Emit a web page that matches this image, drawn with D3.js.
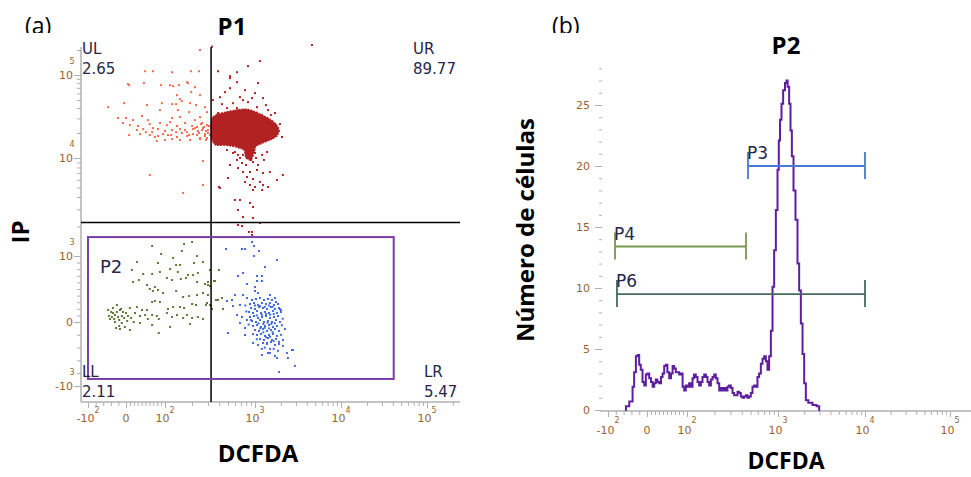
<!DOCTYPE html>
<html lang="en">
<head>
<meta charset="utf-8">
<title>DCFDA / IP</title>
<script src="https://cdn.jsdelivr.net/npm/d3@7"></script>
<style>
  body { margin: 0; background: #fff; }
  svg { display: block; }
</style>
</head>
<body>
<div id="chart"></div>
<script>
// ---- data: panel (a) scatter, [DCFDA, IP] ----
var ulPoints = [[245,200000],[49,111000],[69,111000],[120,108000],[195,111000],[239,111000],
  [8,75500],[46,79800],[90,75500],[114,75500],[143,75500],[176,82000],[215,71400],
  [195,62200],[136,57200],[245,57200],[147,51200],[154,48500],
  [-47,41000],[-5,45800],[54,43400],[92,45800],[120,44600],[133,44600],[190,45800],[221,43400],[278,41000],
  [87,37800],[139,37800],[185,35700],[293,35700],
  [-21,30300],[0,30300],[18,28600],[41,32000],[56,28600],[120,30300],[147,31100],[114,27100],[215,28600],[245,31100],
  [-8,26400],[10,24900],[31,24300],[61,25600],[87,26400],[105,24900],[136,24300],[167,26400],[200,24300],[258,26400],[293,24900],
  [28,21700],[44,22300],[67,20500],[82,22300],[100,21100],[120,21700],[147,22300],[176,20500],[205,22300],[232,21100],[264,22900],[300,21700],
  [8,18900],[61,18900],[74,17900],[108,18900],[136,17900],[176,18400],[227,18900],[278,19400],
  [79,16000],[100,16500],[120,16900],[147,16500],[190,16500],[245,16900],[293,17400],
  [215,22900],[239,20000],[258,21700],[278,18400],[300,20000],[205,19400],[227,23600],[271,23600],[245,17400],[286,16500],
  [167,21700],[185,18900],[154,20000],[133,20500],[117,18900],[95,19400],[82,18400],[69,22900],[51,20500],[36,19400],
  [308,24300],[316,18900],[286,21100],[251,25600],
  [61,6700],[159,4400],[264,5300],[264,9300],[5,77600],[123,73400],[180,79800]];

var urPoints = [[4600,230000],[1140,147000],[836,128000],[631,108000],[527,96800],[388,111000],[333,220000],
  [527,69500],[681,54100],[1000,60500],[1240,52700],[1420,37800],[408,54100],[569,45800],[836,47100],[631,39900],
  [488,39900],[388,34800],[1055,41000],[1210,32900],[1575,26400],[1800,20500],[1850,22900],[341,49800],[378,26400],
  [1083,79800],[631,82000],[527,91600],[464,62200],[774,65700],[926,52700],[1340,43400],[736,49800],[430,44600],
  [1530,32900],[1950,25600],[2060,17900],[1710,34800],
  [360,27000],[350,20000],[420,33000],[600,35500],[800,36000],[1000,33000],[1300,29000],[1700,25000],[1900,21000],
  [1600,17500],[1200,15800],[900,14000],[700,13600],[500,14500],[380,15500],
  [488,12500],[569,11500],[647,10900],[736,10900],[1000,11500],[1210,10900],[1380,11800],[631,9550],[717,8900],
  [950,9100],[1083,8490],[527,8490],[647,7900],[736,7200],[880,7200],[1055,7550],[1240,7030],[1490,7200],[815,6400],
  [950,6100],[1140,5700],[774,5700],[880,5300],[1000,5060],[1240,5300],[1420,5060],[1800,5970],[2110,6710],[1210,4720],
  [950,4720],[501,6250],[408,4940],[599,3730],[681,3730],[880,3480],[950,3160],[647,2950],[736,2500],[950,2440],
  [1140,2170],[647,2070],[717,2020],[926,1760],[858,1760],[926,1640],[398,5060],
  [836,10600],[903,9550],[794,8490],[681,10000],[1027,10000],[1270,9550],[599,11800]];

// dense centre of the UR population (outline)
var urCore = [[333,30300],[388,33800],[476,35700],[615,37800],[794,38800],[975,36700],[1206,32900],[1493,29400],
  [1753,25600],[1899,21700],[1800,18400],[1493,16500],[1206,15100],[1027,13900],[975,11500],[903,9550],[794,10000],
  [755,12500],[615,13600],[476,14300],[368,14300],[333,16500],[325,21700]];

var llPoints = [[67,1265],[163,1326],[200,1390],[90,1048],[154,1125],[227,1000],[123,970],[147,864],[133,864],[28,909],
  [82,894],[210,894],[264,909],[15,788],[44,727],[67,727],[87,758],[114,803],[139,758],[180,712],[205,712],[232,742],
  [105,667],[120,636],[150,652],[171,667],[227,606],[33,636],[18,606],[278,576],[300,606],[316,545],[359,621],
  [54,561],[74,530],[61,500],[69,470],[82,485],[95,439],[133,470],[185,394],[227,409],[159,379],[264,439],[388,333],
  [430,364],[293,288],[67,303],[74,318],[87,303],[123,227],[108,197],[147,227],[163,212],[200,273],[221,258],[316,258],
  [333,197],[28,227],[10,212],[41,182],[54,182],
  [-47,182],[-34,212],[-24,152],[-16,182],[-8,152],[0,136],[-29,106],[-21,76],[-11,91],[-37,76],[5,91],[23,136],[36,91],
  [49,106],[67,106],[79,91],[84,45],[56,45],[105,136],[120,76],[136,106],[159,61],[176,106],[200,61],[232,76],[264,45],
  [-29,0],[-11,-16],[-3,-78],[-26,-94],[10,-125],[36,-16],[67,-47],[114,-78],[190,-31],[84,-172],[-42,45],[-18,30],
  [-24,258],[-34,136],[316,788],[350,621],[398,788],[368,333],[300,409],[325,242],[286,258],[300,561],[441,197],
  [-39,152],[-31,45],[-18,-62],[-13,197],[-5,61],[3,15],[13,61],[20,0],[-45,91],[-16,-109]];

var lrPoints = [[926,1390],[975,1265],[1113,1125],[975,1000],[476,1179],[717,1179],[774,1179],[1800,939],[1306,833],
  [647,697],[736,742],[1055,697],[1206,697],[1055,621],[1206,621],[815,576],[1000,530],[1000,470],[1083,439],[599,409],
  [736,409],[1493,409],[488,318],[555,333],[815,364],[1707,364],[569,242],[681,258],[1950,197],[631,106],[717,76],
  [815,30],[681,-16],[774,-94],[2229,-109],[501,-172],[774,-203],[950,-328],[1083,-359],[1378,-328],[1707,-359],
  [2113,-374],[1206,-515],[1415,-484],[1707,-530],[1800,-562],[2351,-484],[2688,-437],[2415,-562],[2113,-281],
  [2761,-437],[2913,-686],[1899,-780],[1493,-484],
  [926,333],[1027,348],[1143,364],[1272,333],[1415,348],[1575,333],[1753,303],
  [880,273],[975,288],[1083,258],[1206,288],[1342,273],[1493,288],[1662,258],[1849,273],
  [903,212],[1000,197],[1113,227],[1238,212],[1378,197],[1534,227],[1707,197],[1899,212],
  [858,152],[950,136],[1055,167],[1174,136],[1306,152],[1454,136],[1618,167],[1800,136],[2003,152],
  [880,76],[975,91],[1083,61],[1206,76],[1342,91],[1493,61],[1662,76],[1849,91],
  [926,15],[1027,0],[1143,30],[1272,0],[1415,15],[1575,0],[1753,30],[1950,0],
  [950,-62],[1055,-47],[1174,-78],[1306,-62],[1454,-47],[1618,-78],[1800,-62],
  [1000,-125],[1113,-140],[1238,-109],[1378,-140],[1534,-125],[1707,-109],[1899,-140],
  [1055,-203],[1174,-187],[1306,-218],[1454,-203],[1618,-187],[1800,-218],
  [1143,-265],[1272,-281],[1415,-250],[1575,-281],[1753,-265],
  [1238,-328],[1378,-343],[1534,-312],[1899,-343],
  [1000,250],[1150,240],[1300,230],[1450,250],[1600,230],[1350,120],[1200,110],[1050,100],[1500,110],[1650,120],
  [1100,-20],[1250,-30],[1400,-10],[1550,-30],[1700,-20],[1150,-100],[1300,-90],[1450,-100],[1600,-160],[1250,-160],
  [1350,-240],[1500,-230],[1650,-300],[1200,-420],[1300,-400],[1500,-420],[1650,-420],[1850,-450],[1900,-310],
  [2000,-200],[2050,-50],[2100,50],[2000,180],[900,30],[850,-40],[950,-190],[1050,-270],[800,160],[780,250]];

var quadX = 325, quadY = 2200;           // quadrant thresholds
var gateP2X = [-100, 41000], gateP2Y = [-890, 1560];
var quadNames = ["UL", "UR", "LL", "LR"];
var quadPct = ["2.65", "89.77", "2.11", "5.47"];

// ---- data: panel (b) histogram ----
var histX = [-56,-52,-39,-35,-31,-26,-22,-18,-14,-9,-5,-1,3,8,12,16,20,24,28,33,37,41,45,49,53,58,62,66,70,74,78,83,
  87,91,95,99,103,108,113,117,122,128,133,139,145,151,158,165,171,179,187,195,203,212,221,231,241,251,262,273,284,297,
  310,323,337,352,366,382,399,416,434,453,472,492,514,535,559,583,607,634,662,690,720,751,782,817,853,888,927,968,
  1008,1035,1074,1120,1172,1236,1268,1313,1374,1411,1476,1539,1640,1711,1791,1872,1956,2042,2138,2333,2661,2909,3043];
var histCount = [0,0.3,0.7,1.9,3.1,4.4,4.5,3.7,3.3,2.3,2.0,2.9,3.0,2.6,2.3,1.9,2.2,2.5,2.3,2.2,2.7,3.0,3.6,3.7,3.1,
  2.6,3.0,3.6,3.4,3.1,3.1,2.9,3.0,1.9,1.6,2.0,1.9,2.2,1.9,2.6,2.9,2.7,2.3,2.0,2.3,2.7,2.9,2.7,2.3,2.0,2.5,2.7,2.9,
  2.6,2.2,1.6,1.8,1.6,1.8,1.6,1.9,2.0,1.8,1.4,1.2,1.2,1.5,1.4,1.1,1.0,1.1,1.2,1.0,1.1,1.4,1.9,2.0,1.9,2.7,3.0,3.8,
  4.2,4.4,4.0,3.3,4.4,6.5,10.1,13.1,16.4,19.7,22.1,23.8,25.1,26.2,26.8,27.0,26.5,25.1,22.9,20.8,18.0,15.6,12.0,9.8,
  7.1,4.6,2.2,0.8,0.6,0.4,0.3,0];
var gateNames = ["P3", "P4", "P6"];
var gateLo = [468, -82, -77];
var gateHi = [10000, 445, 10000];
var gateLevel = [20, 13.4, 9.5];

// ---- tick labels ----
var xTickVals = [-100, 0, 100, 1000, 10000, 100000];
var xTickBase = ["-10", "0", "10", "10", "10", "10"];
var xTickExp = ["2", "", "2", "3", "4", "5"];
var yTickVals = [-1000, 0, 1000, 10000, 100000];
var yTickBase = ["-10", "0", "10", "10", "10"];
var yTickExp = ["3", "", "3", "4", "5"];
var countTicks = [0, 5, 10, 15, 20, 25];

var axisGray = "#b0b0b0", tickText = "#9a6230", quadText = "#26264a";

var svg = d3.select("#chart").append("svg").attr("width", 971).attr("height", 477);

// linear near zero, log above the threshold
function bx(v, lin) { return v <= lin ? v / lin : 1 + Math.log10(v / lin); }

var sx = d3.scaleLinear().domain([-1, 0, 1, 2, 3, 4]).range([88, 126, 165, 255, 341, 427]);
var sy = d3.scaleLinear().domain([-1, 0, 1, 2, 3]).range([386, 322, 256, 158, 75]);
var hxs = d3.scaleLinear().domain([-1, 0, 1, 2, 3, 4]).range([608, 647, 687, 778, 865, 950]);
var hy = d3.scaleLinear().domain([0, 25]).range([410, 105]);
function px(v) { return sx(bx(v, 100)); }
function py(v) { return sy(bx(v, 1000)); }
function hx(v) { return hxs(bx(v, 100)); }

// minor tick values for the biexponential axes
function minorVals(lin, negStep, posStep, maxV) {
  var out = [];
  for (var v = -lin + negStep; v < 0; v += negStep) out.push(v);
  for (v = posStep; v < lin; v += posStep) out.push(v);
  for (var d = lin; d * 2 <= maxV; d *= 10)
    for (var k = 2; k <= 9; k++) if (k * d <= maxV) out.push(k * d);
  return out;
}

function ticks(g, axisFn, scale, vals, size) {
  g.call(axisFn(scale).tickValues(vals).tickSize(size).tickFormat(""));
  g.select(".domain").remove();
  g.selectAll(".tick line").attr("stroke", axisGray).attr("stroke-width", 1);
}

// ================= panel (a) =================
var a = svg.append("g");

ticks(a.append("g").attr("transform", "translate(0,402)"), d3.axisBottom, sx,
  minorVals(100, 20, 10, 250000).map(function(v) { return bx(v, 100); }), 4);
ticks(a.append("g").attr("transform", "translate(0,402)"), d3.axisBottom, sx,
  xTickVals.map(function(v) { return bx(v, 100); }), 6);
ticks(a.append("g").attr("transform", "translate(81,0)"), d3.axisLeft, sy,
  minorVals(1000, 200, 100, 220000).map(function(v) { return bx(v, 1000); }), 4);
ticks(a.append("g").attr("transform", "translate(81,0)"), d3.axisLeft, sy,
  yTickVals.map(function(v) { return bx(v, 1000); }), 7);

a.append("line").attr("x1", 81).attr("x2", 81).attr("y1", 47).attr("y2", 402)
  .attr("stroke", axisGray).attr("stroke-width", 1.5);
a.append("line").attr("x1", 81).attr("x2", 460).attr("y1", 402).attr("y2", 402)
  .attr("stroke", axisGray).attr("stroke-width", 1.5);

// x tick labels
xTickVals.forEach(function(v, i) {
  var t = a.append("text").attr("x", px(v)).attr("y", 422).attr("text-anchor", "middle")
    .attr("font-family", "DejaVu Sans").attr("font-size", 11).attr("fill", tickText);
  t.append("tspan").text(xTickBase[i]);
  if (xTickExp[i]) t.append("tspan").attr("dy", -9).attr("font-size", 8).text(xTickExp[i]);
});
// y tick labels
yTickVals.forEach(function(v, i) {
  a.append("text").attr("x", 73).attr("y", py(v) + 4).attr("text-anchor", "end")
    .attr("font-family", "DejaVu Sans").attr("font-size", 11).attr("fill", tickText).text(yTickBase[i]);
  if (yTickExp[i]) a.append("text").attr("x", 72).attr("y", py(v) - 11).attr("text-anchor", "middle")
    .attr("font-family", "DejaVu Sans").attr("font-size", 8).attr("fill", tickText).text(yTickExp[i]);
});

// events
function dots(data, color) {
  a.append("g").selectAll("rect").data(data).enter().append("rect")
    .attr("x", function(d) { return px(d[0]) - 1; })
    .attr("y", function(d) { return py(d[1]) - 1; })
    .attr("width", 2).attr("height", 2).attr("fill", color);
}
a.append("path").datum(urCore)
  .attr("d", d3.line().x(function(d) { return px(d[0]); }).y(function(d) { return py(d[1]); })
    .curve(d3.curveCardinalClosed.tension(0.5)))
  .attr("fill", "#b22222").attr("stroke", "#b22222").attr("stroke-width", 1.5)
  .attr("stroke-dasharray", "2,1");
dots(ulPoints, "#f6694c");
dots(urPoints, "#b22222");
dots(llPoints, "#5b7a35");
dots(lrPoints, "#4169e1");

// quadrant lines and P2 gate
a.append("line").attr("x1", px(quadX)).attr("x2", px(quadX)).attr("y1", 47).attr("y2", 402)
  .attr("stroke", "#000").attr("stroke-width", 1.5);
a.append("line").attr("x1", 81).attr("x2", 460).attr("y1", py(quadY)).attr("y2", py(quadY))
  .attr("stroke", "#000").attr("stroke-width", 1.5);
a.append("rect").attr("x", px(gateP2X[0])).attr("y", py(gateP2Y[1]))
  .attr("width", px(gateP2X[1]) - px(gateP2X[0])).attr("height", py(gateP2Y[0]) - py(gateP2Y[1]))
  .attr("fill", "none").attr("stroke", "#7a3ea6").attr("stroke-width", 2);

var qPos = [[82, 54], [413, 54], [82, 377], [424, 377]];
quadNames.forEach(function(n, i) {
  a.append("text").attr("x", qPos[i][0]).attr("y", qPos[i][1]).attr("font-family", "DejaVu Sans")
    .attr("font-size", 15).attr("fill", quadText).text(n);
  a.append("text").attr("x", qPos[i][0]).attr("y", qPos[i][1] + 20).attr("font-family", "DejaVu Sans")
    .attr("font-size", 15).attr("fill", quadText).text(quadPct[i]);
});
a.append("text").attr("x", 100).attr("y", 273).attr("font-family", "DejaVu Sans")
  .attr("font-size", 18).attr("fill", quadText).text("P2");

a.append("text").attr("x", 232).attr("y", 35).attr("text-anchor", "middle").attr("font-family", "Open Sans")
  .attr("font-weight", "bold").attr("font-size", 24).text("P1");
a.append("text").attr("x", 258).attr("y", 462).attr("text-anchor", "middle").attr("font-family", "Open Sans")
  .attr("font-weight", "bold").attr("font-size", 24).text("DCFDA");
a.append("text").attr("transform", "translate(29,232) rotate(-90)").attr("text-anchor", "middle")
  .attr("font-family", "Open Sans").attr("font-weight", "bold").attr("font-size", 24).text("IP");

// ================= panel (b) =================
var b = svg.append("g");

ticks(b.append("g").attr("transform", "translate(0,411)"), d3.axisBottom, hxs,
  minorVals(100, 20, 10, 150000).map(function(v) { return bx(v, 100); }), 4);
ticks(b.append("g").attr("transform", "translate(0,411)"), d3.axisBottom, hxs,
  xTickVals.map(function(v) { return bx(v, 100); }), 6);
b.append("line").attr("x1", 600).attr("x2", 971).attr("y1", 411).attr("y2", 411)
  .attr("stroke", axisGray).attr("stroke-width", 1.5);

ticks(b.append("g").attr("transform", "translate(602,0)"), d3.axisLeft, hy, d3.range(0, 29), 3);
var cy = b.append("g").attr("transform", "translate(602,0)");
cy.call(d3.axisLeft(hy).tickValues(countTicks).tickSize(7).tickPadding(5));
cy.select(".domain").remove();
cy.selectAll(".tick line").attr("stroke", axisGray);
cy.selectAll(".tick text").attr("font-family", "DejaVu Sans").attr("font-size", 11).attr("fill", tickText);

xTickVals.forEach(function(v, i) {
  var t = b.append("text").attr("x", hx(v)).attr("y", 434).attr("text-anchor", "middle")
    .attr("font-family", "DejaVu Sans").attr("font-size", 11).attr("fill", tickText);
  t.append("tspan").text(xTickBase[i]);
  if (xTickExp[i]) t.append("tspan").attr("dy", -11).attr("font-size", 8).text(xTickExp[i]);
});

var histData = histX.map(function(x, i) { return [x, histCount[i]]; });
b.append("path").datum(histData)
  .attr("d", d3.line().x(function(d) { return hx(d[0]); }).y(function(d) { return hy(d[1]); }).curve(d3.curveStep))
  .attr("fill", "none").attr("stroke", "#5e1f9e").attr("stroke-width", 2);

var gateColors = ["#4a78d6", "#77974c", "#466a5e"];
gateNames.forEach(function(n, i) {
  var y = hy(gateLevel[i]), x0 = hx(gateLo[i]), x1 = hx(gateHi[i]);
  var g = b.append("g").attr("stroke", gateColors[i]).attr("stroke-width", 1.8);
  g.append("line").attr("x1", x0).attr("x2", x1).attr("y1", y).attr("y2", y);
  g.append("line").attr("x1", x0).attr("x2", x0).attr("y1", y - 14).attr("y2", y + 13);
  g.append("line").attr("x1", x1).attr("x2", x1).attr("y1", y - 14).attr("y2", y + 13);
  b.append("text").attr("x", x0 - 1).attr("y", y - 7).attr("font-family", "DejaVu Sans")
    .attr("font-size", 17).attr("fill", quadText).text(n);
});

b.append("text").attr("x", 786).attr("y", 54).attr("text-anchor", "middle").attr("font-family", "Open Sans")
  .attr("font-weight", "bold").attr("font-size", 24).text("P2");
b.append("text").attr("x", 786).attr("y", 469).attr("text-anchor", "middle").attr("font-family", "Open Sans")
  .attr("font-weight", "bold").attr("font-size", 23).text("DCFDA");
b.append("text").attr("transform", "translate(534,230) rotate(-90)").attr("text-anchor", "middle")
  .attr("font-family", "Open Sans").attr("font-weight", "bold").attr("font-size", 24).text("Número de células");

// panel letters, cut off at the bottom as in the figure
svg.append("clipPath").attr("id", "cut").append("rect").attr("x", 0).attr("y", 0).attr("width", 971).attr("height", 33);
var letters = svg.append("g").attr("clip-path", "url(#cut)");
letters.append("text").attr("x", 25).attr("y", 34).attr("font-family", "Open Sans").attr("font-size", 23).text("(a)");
letters.append("text").attr("x", 552).attr("y", 34).attr("font-family", "Open Sans").attr("font-size", 23).text("(b)");
</script>
</body>
</html>
